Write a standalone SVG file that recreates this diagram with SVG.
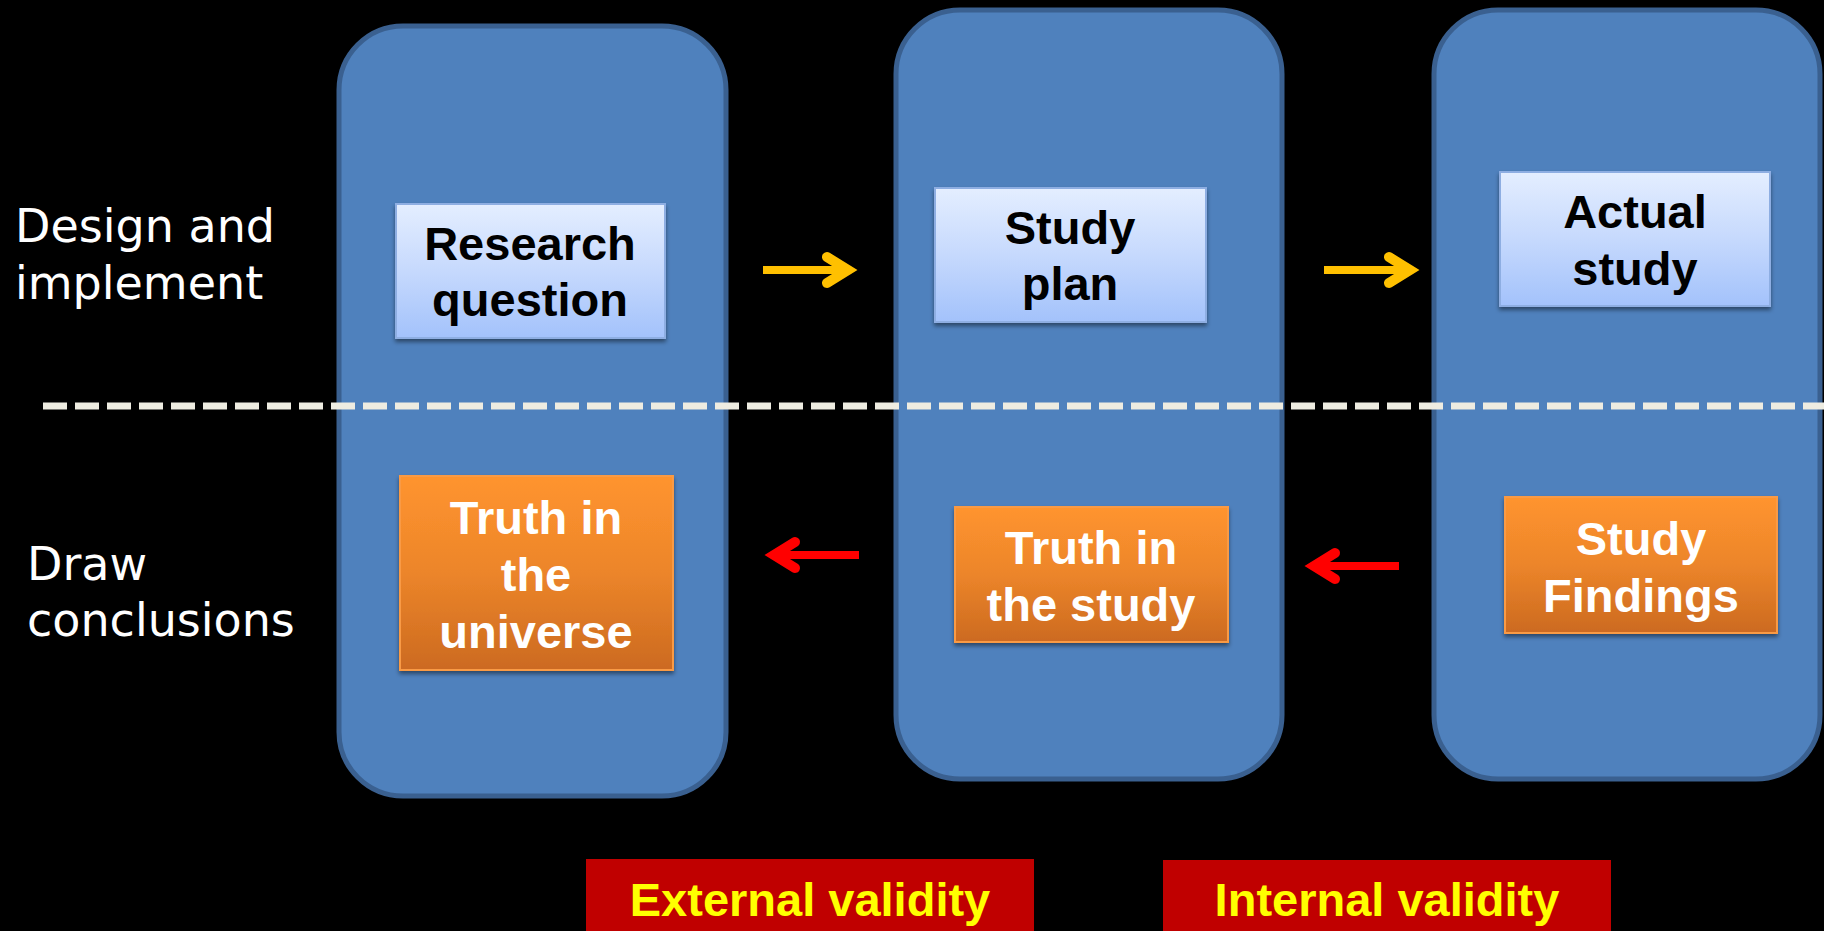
<svg xmlns="http://www.w3.org/2000/svg" width="1824" height="931" viewBox="0 0 1824 931">
<defs>
<linearGradient id="gBlue" x1="0" y1="0" x2="0" y2="1">
<stop offset="0" stop-color="#e4eeff"/>
<stop offset="0.5" stop-color="#c6d9fd"/>
<stop offset="1" stop-color="#a3c2fb"/>
</linearGradient>
<linearGradient id="gOrange" x1="0" y1="0" x2="0" y2="1">
<stop offset="0" stop-color="#ff942f"/>
<stop offset="0.5" stop-color="#ec852a"/>
<stop offset="1" stop-color="#cc6a20"/>
</linearGradient>
<filter id="shadow" x="-10%" y="-10%" width="120%" height="130%">
<feDropShadow dx="0" dy="3" stdDeviation="2" flood-color="#000" flood-opacity="0.45"/>
</filter>
<marker id="headY" markerUnits="userSpaceOnUse" viewBox="-30 -20 45 40" markerWidth="45" markerHeight="40" refX="0" refY="0" orient="auto" overflow="visible">
<path d="M-21,-13 L0,0 L-21,13" fill="none" stroke="#ffc000" stroke-width="10" stroke-linecap="round" stroke-linejoin="miter"/>
</marker>
<marker id="headR" markerUnits="userSpaceOnUse" viewBox="-30 -20 45 40" markerWidth="45" markerHeight="40" refX="0" refY="0" orient="auto" overflow="visible">
<path d="M-21,-13 L0,0 L-21,13" fill="none" stroke="#ff0000" stroke-width="10" stroke-linecap="round" stroke-linejoin="miter"/>
</marker>
</defs>
<style>
.col{fill:#4f81bd;stroke:#3a6090;stroke-width:5}
.bbox{fill:url(#gBlue);stroke:#8eaee2;stroke-width:2;filter:url(#shadow)}
.obox{fill:url(#gOrange);stroke:#f99a45;stroke-width:2;filter:url(#shadow)}
.bt{font-family:"Liberation Sans",Arial,sans-serif;font-weight:bold;font-size:47px;fill:#000;text-anchor:middle}
.ot{font-family:"Liberation Sans",Arial,sans-serif;font-weight:bold;font-size:47px;fill:#fff;text-anchor:middle}
.side{font-family:"DejaVu Sans",sans-serif;font-size:46px;fill:#fff}
.vbox{fill:#c00000}
.vt{font-family:"Liberation Sans",Arial,sans-serif;font-weight:bold;font-size:47px;fill:#ffff00;text-anchor:middle}
.ya{stroke:#ffc000;stroke-width:8;fill:none;marker-end:url(#headY)}
.ra{stroke:#ff0000;stroke-width:8;fill:none;marker-end:url(#headR)}
</style>
<rect x="0" y="0" width="1824" height="931" fill="#000"/>

<g id="columns">
<rect id="col1" class="col" x="339" y="26" width="387" height="770" rx="64" ry="64"/>
<rect id="col2" class="col" x="896" y="10" width="386" height="769" rx="64" ry="64"/>
<rect id="col3" class="col" x="1434" y="10" width="386" height="769" rx="64" ry="64"/>
</g>

<g id="label-design">
<text class="side" x="15" y="242">Design and</text>
<text class="side" x="15" y="299">implement</text>
</g>
<g id="label-draw">
<text class="side" x="27" y="580">Draw</text>
<text class="side" x="27" y="636">conclusions</text>
</g>

<g id="divider">
<line x1="43" y1="406" x2="1824" y2="406" stroke="#eeece1" stroke-width="7" stroke-dasharray="24 8"/>
</g>

<g id="research-question">
<rect class="bbox" x="396" y="204" width="269" height="134"/>
<text class="bt" x="530" y="260">Research</text>
<text class="bt" x="530" y="316">question</text>
</g>
<g id="study-plan">
<rect class="bbox" x="935" y="188" width="271" height="134"/>
<text class="bt" x="1070" y="244">Study</text>
<text class="bt" x="1070" y="300">plan</text>
</g>
<g id="actual-study">
<rect class="bbox" x="1500" y="172" width="270" height="134"/>
<text class="bt" x="1635" y="228">Actual</text>
<text class="bt" x="1635" y="285">study</text>
</g>

<g id="truth-universe">
<rect class="obox" x="400" y="476" width="273" height="194"/>
<text class="ot" x="536" y="534">Truth in</text>
<text class="ot" x="536" y="591">the</text>
<text class="ot" x="536" y="648">universe</text>
</g>
<g id="truth-study">
<rect class="obox" x="955" y="507" width="273" height="135"/>
<text class="ot" x="1091" y="564">Truth in</text>
<text class="ot" x="1091" y="621">the study</text>
</g>
<g id="study-findings">
<rect class="obox" x="1505" y="497" width="272" height="136"/>
<text class="ot" x="1641" y="555">Study</text>
<text class="ot" x="1641" y="612">Findings</text>
</g>

<g id="connectors">
<line class="ya" x1="763" y1="270" x2="848" y2="270"/>
<line class="ya" x1="1324" y1="270" x2="1410" y2="270"/>
<line class="ra" x1="859" y1="555" x2="774" y2="555"/>
<line class="ra" x1="1399" y1="566" x2="1314" y2="566"/>
</g>

<g id="external-validity">
<rect class="vbox" x="586" y="859" width="448" height="72"/>
<text class="vt" x="810" y="916">External validity</text>
</g>
<g id="internal-validity">
<rect class="vbox" x="1163" y="860" width="448" height="71"/>
<text class="vt" x="1387" y="916">Internal validity</text>
</g>
</svg>
